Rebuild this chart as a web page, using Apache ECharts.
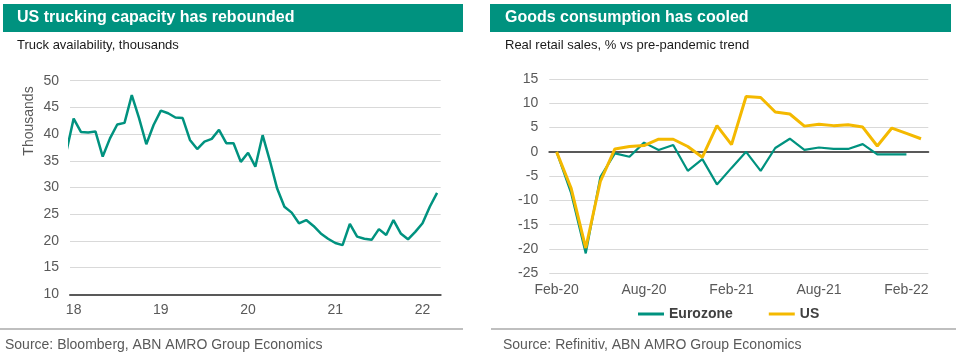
<!DOCTYPE html>
<html><head><meta charset="utf-8">
<script src="https://cdn.jsdelivr.net/npm/echarts@6/dist/echarts.min.js"></script>
<style>html,body{margin:0;padding:0;background:#fff}#c{width:956px;height:360px}</style>
</head><body><div id="c"></div>
<script>
// ---- Left chart data: truck availability, thousands (monthly) ----
const truckMonths = ['Dec-17',
  'Jan-18','Feb-18','Mar-18','Apr-18','May-18','Jun-18','Jul-18','Aug-18','Sep-18','Oct-18','Nov-18','Dec-18',
  'Jan-19','Feb-19','Mar-19','Apr-19','May-19','Jun-19','Jul-19','Aug-19','Sep-19','Oct-19','Nov-19','Dec-19',
  'Jan-20','Feb-20','Mar-20','Apr-20','May-20','Jun-20','Jul-20','Aug-20','Sep-20','Oct-20','Nov-20','Dec-20',
  'Jan-21','Feb-21','Mar-21','Apr-21','May-21','Jun-21','Jul-21','Aug-21','Sep-21','Oct-21','Nov-21','Dec-21',
  'Jan-22','Feb-22','Mar-22'];
const truckValues = [36.7,
  42.9, 40.4, 40.3, 40.5, 35.8, 39.2, 41.8, 42.1, 47.3, 43.0, 38.1, 41.7,
  44.4, 43.9, 43.1, 43.0, 38.9, 37.2, 38.6, 39.1, 40.8, 38.3, 38.3, 34.8,
  36.5, 33.9, 39.8, 35.0, 29.8, 26.4, 25.3, 23.3, 23.9, 22.8, 21.4, 20.4,
  19.6, 19.2, 23.2, 20.8, 20.4, 20.2, 22.2, 21.1, 23.9, 21.4, 20.3, 21.7,
  23.3, 26.4, 29.0];
const truckYearLabels = ['18','19','20','21','22'];
const truckYTicks = {min: 10, max: 50, step: 5};

// ---- Right chart data: real retail sales, % vs pre-pandemic trend ----
const retailMonths = ['Feb-20','Mar-20','Apr-20','May-20','Jun-20','Jul-20','Aug-20','Sep-20','Oct-20','Nov-20','Dec-20',
  'Jan-21','Feb-21','Mar-21','Apr-21','May-21','Jun-21','Jul-21','Aug-21','Sep-21','Oct-21','Nov-21','Dec-21',
  'Jan-22','Feb-22','Mar-22'];
const eurozoneValues = [0, -8.5, -20.9, -5.2, -0.3, -1.0, 1.9, 0.4, 1.4, -3.9, -1.5, -6.7, -3.3, 0.0, -3.9, 0.8, 2.7,
  0.4, 0.9, 0.6, 0.6, 1.6, -0.5, -0.5, -0.5, null];
const usValues = [0, -7.5, -19.8, -6.1, 0.6, 1.1, 1.3, 2.6, 2.6, 1.1, -1.1, 5.4, 1.5, 11.4, 11.2, 8.2, 7.8,
  5.3, 5.7, 5.4, 5.6, 5.1, 1.2, 4.9, 3.8, 2.7];
const retailYTicks = {min: -25, max: 15, step: 5};
const retailSeriesNames = ['Eurozone', 'US'];

const TEAL = '#00927F', GOLD = '#F4B900', GREY = '#595959', GRID = '#D9D9D9';
const FONT = '"Liberation Sans", Arial, sans-serif';
const isJan = (i, v) => String(v).startsWith('Jan');

const chart = echarts.init(document.getElementById('c'), null, {renderer: 'canvas'});
chart.setOption({
  animation: false,
  textStyle: {fontFamily: FONT},
  grid: [
    {left: 70, right: 515.3, top: 80.7, bottom: 65.7, containLabel: false},
    {left: 549.3, right: 27.7, top: 79, bottom: 86.7, containLabel: false}
  ],
  xAxis: [
    {type: 'category', gridIndex: 0, data: truckMonths, boundaryGap: true, min: 1,
     axisLine: {lineStyle: {color: GREY, width: 2}},
     axisTick: {interval: isJan, length: 4, lineStyle: {color: GREY, width: 1.5}},
     axisLabel: {interval: isJan, color: GREY, fontSize: 14, margin: 9,
       formatter: v => truckYearLabels.find(y => v.endsWith('-' + y)) || ''},
     splitLine: {show: false}},
    {type: 'category', gridIndex: 1, data: retailMonths, boundaryGap: true, position: 'top',
     axisLine: {onZero: true, lineStyle: {color: GREY, width: 2}},
     axisTick: {interval: 5, inside: true, length: 4, lineStyle: {color: GREY, width: 1.5}},
     axisLabel: {show: false}, splitLine: {show: false}},
    {type: 'category', gridIndex: 1, data: retailMonths, boundaryGap: true, position: 'bottom',
     axisLine: {show: false, onZero: false}, axisTick: {show: false},
     axisLabel: {interval: 5, color: GREY, fontSize: 14, margin: 10}, splitLine: {show: false}}
  ],
  yAxis: [
    {type: 'value', gridIndex: 0, min: truckYTicks.min, max: truckYTicks.max, interval: truckYTicks.step,
     axisLine: {show: false}, axisTick: {show: false},
     axisLabel: {color: GREY, fontSize: 14, margin: 11},
     splitLine: {lineStyle: {color: GRID, width: 1}}},
    {type: 'value', gridIndex: 1, min: retailYTicks.min, max: retailYTicks.max, interval: retailYTicks.step,
     axisLine: {show: false}, axisTick: {show: false},
     axisLabel: {color: GREY, fontSize: 14, margin: 11},
     splitLine: {lineStyle: {color: GRID, width: 1}}}
  ],
  legend: {data: retailSeriesNames, left: 633, top: 302, itemWidth: 26, itemHeight: 3, icon: 'rect',
    itemGap: 36, textStyle: {fontWeight: 'bold', fontSize: 14, color: '#404040', fontFamily: FONT}},
  series: [
    {name: 'Truck availability', type: 'line', xAxisIndex: 0, yAxisIndex: 0, data: truckValues,
     showSymbol: false, symbol: 'none', clip: true, lineStyle: {color: TEAL, width: 2.5}, itemStyle: {color: TEAL}},
    {name: retailSeriesNames[0], type: 'line', xAxisIndex: 1, yAxisIndex: 1, data: eurozoneValues,
     showSymbol: false, symbol: 'none', lineStyle: {color: TEAL, width: 2.2}, itemStyle: {color: TEAL}},
    {name: retailSeriesNames[1], type: 'line', xAxisIndex: 1, yAxisIndex: 1, data: usValues,
     showSymbol: false, symbol: 'none', lineStyle: {color: GOLD, width: 3}, itemStyle: {color: GOLD}}
  ],
  graphic: [
    {type: 'rect', shape: {x: 3, y: 4, width: 460, height: 28}, style: {fill: TEAL}, silent: true},
    {type: 'rect', shape: {x: 490, y: 4, width: 461, height: 28}, style: {fill: TEAL}, silent: true},
    {type: 'text', x: 17, y: 18, style: {text: 'US trucking capacity has rebounded', fill: '#fff',
      font: 'bold 16px ' + FONT, textVerticalAlign: 'middle'}},
    {type: 'text', x: 505, y: 18, style: {text: 'Goods consumption has cooled', fill: '#fff',
      font: 'bold 16px ' + FONT, textVerticalAlign: 'middle'}},
    {type: 'text', x: 17, y: 45, style: {text: 'Truck availability, thousands', fill: '#1a1a1a',
      font: '13px ' + FONT, textVerticalAlign: 'middle'}},
    {type: 'text', x: 505, y: 45, style: {text: 'Real retail sales, % vs pre-pandemic trend', fill: '#1a1a1a',
      font: '13px ' + FONT, textVerticalAlign: 'middle'}},
    {type: 'text', x: 29.5, y: 121, rotation: Math.PI / 2, style: {text: 'Thousands', fill: GREY,
      font: '14px ' + FONT, textAlign: 'center', textVerticalAlign: 'middle'}},
    {type: 'rect', shape: {x: 0, y: 328, width: 463, height: 2}, style: {fill: '#BFBFBF'}, silent: true},
    {type: 'rect', shape: {x: 491, y: 328, width: 465, height: 2}, style: {fill: '#BFBFBF'}, silent: true},
    {type: 'text', x: 5, y: 345, style: {text: 'Source: Bloomberg, ABN AMRO Group Economics', fill: GREY,
      font: '14px ' + FONT, textVerticalAlign: 'middle'}},
    {type: 'text', x: 503, y: 345, style: {text: 'Source: Refinitiv, ABN AMRO Group Economics', fill: GREY,
      font: '14px ' + FONT, textVerticalAlign: 'middle'}}
  ]
});
</script></body></html>
